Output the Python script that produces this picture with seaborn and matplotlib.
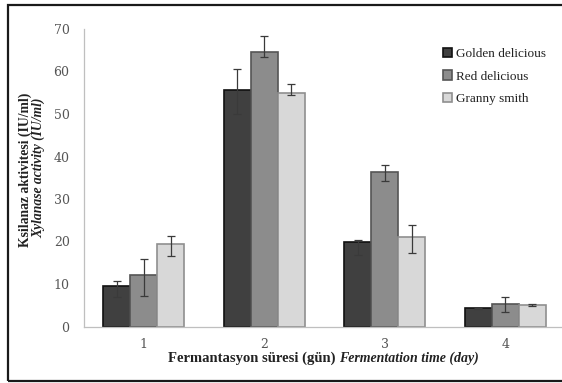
import pandas as pd
import matplotlib.pyplot as plt
import matplotlib.patches as mpatches
import seaborn as sns
import numpy as np

days = ['1', '2', '3', '4']
varieties = ['Golden delicious', 'Red delicious', 'Granny smith']
yticks = [0, 10, 20, 30, 40, 50, 60, 70]

golden = [9.6, 55.6, 19.8, 4.3]
golden_lo = [2.7, 5.6, 3.0, 0.15]
golden_hi = [1.0, 5.0, 0.5, 0.15]

red = [12.1, 64.7, 36.4, 5.2]
red_lo = [4.9, 1.2, 2.2, 1.9]
red_hi = [3.7, 3.7, 1.5, 1.8]

granny = [19.4, 55.0, 21.0, 5.1]
granny_lo = [2.9, 0.5, 3.8, 0.3]
granny_hi = [2.0, 2.1, 3.0, 0.3]

face_colors = ['#404040', '#8c8c8c', '#d8d8d8']
edge_colors = ['#111111', '#555555', '#8f8f8f']

df = pd.DataFrame({
    'day': days * 3,
    'value': golden + red + granny,
    'variety': np.repeat(varieties, len(days)),
})
errs_lo = [golden_lo, red_lo, granny_lo]
errs_hi = [golden_hi, red_hi, granny_hi]

sns.set_style('white')
plt.rcParams['font.family'] = ['Liberation Serif', 'DejaVu Serif']

fig = plt.figure(figsize=(5.62, 3.83), dpi=100)
ax = fig.add_axes([83.5 / 562, 56.5 / 383, 482 / 562, 297.5 / 383])

sns.barplot(data=df, x='day', y='value', hue='variety', palette=face_colors,
            errorbar=None, width=0.67, gap=0, legend=False, ax=ax, saturation=1)

bar_containers = list(ax.containers)
for i, cont in enumerate(bar_containers):
    xs = [p.get_x() + p.get_width() / 2 for p in cont.patches]
    ys = [p.get_height() for p in cont.patches]
    for p in cont.patches:
        p.set_edgecolor(edge_colors[i])
        p.set_linewidth(1.2)
    ax.errorbar(xs, ys, yerr=[errs_lo[i], errs_hi[i]], fmt='none',
                ecolor='#3a3a3a', elinewidth=0.9, capsize=2.8, capthick=0.9, zorder=5)

ax.set_ylim(0, 70)
ax.set_xlim(-0.5, 3.5)
ax.set_yticks(yticks, [str(t) for t in yticks], fontfamily='DejaVu Serif')
ax.set_xticks(range(4), days, fontfamily='DejaVu Serif')
ax.set_xticks([0.5, 1.5, 2.5], minor=True)
ax.tick_params(axis='x', which='major', length=0, pad=8, labelsize=9, labelcolor='#555555')
ax.tick_params(axis='x', which='minor', length=4, color='#bfbfbf', width=0.8, direction='out')
ax.tick_params(axis='y', length=4, color='#bfbfbf', width=0.8, direction='out', pad=6,
               labelsize=9, labelcolor='#555555')
ax.set_xlabel('')
ax.set_ylabel('')
for s in ['top', 'right']:
    ax.spines[s].set_visible(False)
for s in ['left', 'bottom']:
    ax.spines[s].set_color('#bfbfbf')
    ax.spines[s].set_linewidth(0.9)

# y label in two lines (normal bold + italic bold)
fig.text(25 / 562, 1 - 170 / 383, 'Ksilanaz aktivitesi (IU/ml)', rotation=90, ha='center', va='center',
         fontsize=9.8, fontweight='bold', color='#222222')
fig.text(38.5 / 562, 1 - 168 / 383, 'Xylanase activity (IU/ml)', rotation=90, ha='center', va='center',
         fontsize=9.8, fontweight='bold', style='italic', color='#222222')

# x label: turkish part + english italic part
fig.text(339 / 562, 1 - 358 / 383, 'Fermantasyon süresi (gün) ', ha='right', va='center',
         fontsize=10.5, fontweight='bold', color='#222222')
fig.text(339 / 562, 1 - 358 / 383, 'Fermentation time (day)', ha='left', va='center',
         fontsize=10, fontweight='bold', style='italic', color='#222222')

handles = [mpatches.Patch(facecolor=face_colors[i], edgecolor=edge_colors[i], linewidth=1.2)
           for i in range(3)]
fig.legend(handles, varieties, loc='upper left', bbox_to_anchor=(436 / 562, 1 - 41 / 383),
           frameon=False, fontsize=9.5, handlelength=0.7, handleheight=0.7,
           handletextpad=0.35, labelspacing=0.8, borderpad=0, labelcolor='#222222')

# outer frame around the figure
fig.patches.append(mpatches.Rectangle((8 / 562, 2 / 383), 1.2, 376 / 383, transform=fig.transFigure,
                                      fill=False, edgecolor='#1a1a1a', linewidth=1.6))

fig.savefig('out.png', dpi=100)
